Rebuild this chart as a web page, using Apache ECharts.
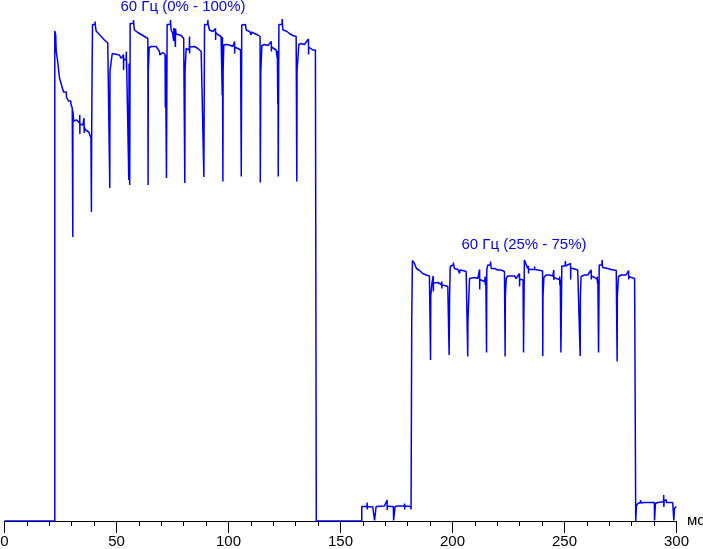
<!DOCTYPE html>
<html>
<head>
<meta charset="utf-8">
<script src="https://cdn.jsdelivr.net/npm/echarts@6/dist/echarts.min.js"></script>
<style>
html,body{margin:0;padding:0;background:#fff;}
#chart{width:703px;height:549px;}
</style>
</head>
<body>
<div id="chart"></div>
<script>
// x ticks (ms)
var xTicks = [0, 50, 100, 150, 200, 250, 300];
var xUnit = 'мс';
var labels = ['60 Гц (0% - 100%)', '60 Гц (25% - 75%)'];

// Response trace, [time ms, level] ; level in arbitrary units (0 = black)
var trace0to100 = [
 [0,0],[22.45,0],
 [22.45,98],[22.8,98],[22.85,97.2],[23.05,97.2],[23.1,93.9],[23.7,93.9],[23.75,91.9],[24.5,91.9],[24.55,88.6],[25.4,88.6],[25.45,87.2],[26.3,87.2],[26.35,85.8],[27.6,85.8],[27.65,84.8],[28.5,84.8],[28.55,84],[29.6,84],[29.65,83.4],[30.2,83.4],[30.25,82.6],[30.45,82.2],
 [30.5,56.8],[30.55,82],[30.9,80],
 [32.2,80.2],[33.5,79.6],[33.6,81.2],[33.65,77.4],[33.7,79.4],[35.0,79.2],[35.5,80.6],[35.55,77.6],[35.6,78.8],[36.2,78.2],[37.6,77.8],[38.3,77.5],[38.6,76.6],
 [38.8,61.8],[38.9,76],[39.1,90],[39.3,99.3],
 [40.4,99.3],[40.45,99.9],[40.5,99.3],[40.9,98],[41.7,97.6],[43.2,96.9],[44.6,96.2],[46.1,95.6],[46.9,95.2],
 [47.0,66.6],[47.1,90],[48.1,93.5],
 [48.8,93.7],[51.3,93.2],[52.1,92.5],[53.1,93.3],[53.15,90.2],[53.2,92.4],[54.3,92.2],[54.4,93.9],[54.45,90.6],[54.5,92],[55.2,91.9],
 [55.5,68.2],[55.6,91.5],[55.9,67.2],[56.1,99.5],
 [57.5,99.5],[57.6,100.2],[57.7,99.5],[58.0,98.2],[59.5,97.7],[61.0,97.3],[62.5,96.9],[64.0,96.5],
 [64.1,67.2],[64.2,90],[64.6,94.7],
 [65.5,94.9],[67.7,94.9],[68.5,94.5],[69.2,93.9],[69.3,93.2],[70.7,93.7],[71.7,93.3],[71.8,82.7],[71.9,93.2],
 [72.3,68.6],[72.6,99.3],
 [74.0,99.3],[74.1,100.2],[74.2,99.3],[74.4,98.2],[75.1,97.5],[75.5,96],[75.6,98.6],[75.9,97.3],[76.3,94.8],[76.35,98.5],[76.6,97.4],[77.4,97.5],[78.9,97.1],[80.0,96.5],
 [80.5,67.6],[80.6,90],[81.1,94.5],
 [82.5,94.2],[82.6,96.9],[82.65,93.5],[82.7,94.8],[83.3,95.2],[84.8,94.9],[86.3,94.5],[87.8,93.9],[88.5,93.5],
 [89.0,68.8],[89.3,99.3],
 [90.7,99.3],[90.8,100.2],[90.9,99.3],[91.5,98.2],[93.0,97.9],[94.2,98.5],[94.25,96.2],[94.3,97.7],[95.2,97.3],[96.7,96.9],
 [97.2,85.2],[97.3,96.8],[97.5,67.9],[97.6,90],[97.9,95.2],
 [99.0,95.3],[100.4,95.2],[101.9,94.9],[102.7,95.9],[102.75,93.5],[102.8,94.8],[104.2,94.5],[105.4,94.2],
 [105.7,68.9],[105.9,99.2],
 [107.6,99.3],[107.9,98.2],[109.4,97.9],[110.1,98.2],[110.15,97.2],[110.2,97.8],[111.6,97.5],[113.1,97.2],[114.1,96.9],
 [114.2,67.7],[114.4,89.6],[114.9,95.1],
 [116.1,95.3],[117.6,95.1],[119.1,95.9],[119.15,93.9],[119.2,94.8],[119.8,94.5],[121.3,94.2],[121.7,92.7],[121.8,94],[122.0,83.4],[122.1,93.5],
 [122.2,68.9],[122.5,99.3],
 [123.9,99.3],[124.0,100.4],[124.1,99.3],[124.3,98.2],[125.8,98],[127.2,97.5],[128.7,97.1],[130.2,96.9],
 [130.5,67.9],[130.6,90],[131.4,95.3],
 [132.4,95.5],[133.9,95.3],[135.7,96.4],[135.75,93.3],[135.8,94.8],[136.2,94.5],[137.6,94.2],[138.8,94.2],
 [139.2,94.2],[139.2,0],[159.5,0]
];

var trace25to75 = [
 [159.5,2.9],[161.8,2.9],[161.9,3.7],[161.95,2.3],[162.0,2.9],[164.4,2.8],[165.2,0.1],[165.6,0.1],[165.9,2.9],[166.7,3.0],[169.6,3.0],[170.8,4.2],[170.85,2.2],[170.9,3.0],[172.6,2.9],[173.6,2.9],[173.7,0.1],[173.9,0.1],[174.4,2.9],[175.6,3.0],[178.5,3.0],[178.6,3.5],[178.65,2.3],[178.7,3.0],[181.3,2.9],[181.5,2.3],
 [181.8,39.9],[182.1,52.1],
 [182.8,52.1],[183.0,51.5],[183.8,51.5],[183.9,50.5],[185.3,50.1],[186.7,49.5],[188.3,49.2],[189.7,49.0],[190.1,48.8],
 [190.2,32.2],[190.3,45],[190.8,47.5],
 [191.4,49],[191.45,45.9],[191.5,47.6],[192.0,47.7],[193.4,47.7],[195.0,47.3],[195.2,47.9],[195.25,46.5],[195.3,47.2],[196.4,47.1],[197.9,46.9],[198.3,46.5],
 [198.5,33.2],[198.7,45],[199.0,50.9],
 [199.4,51.2],[200.3,51.2],[200.4,51.7],[200.5,51.2],[200.9,50.5],[202.4,50.3],[203.1,50.2],[203.15,50.5],[203.2,49.5],[203.3,50.2],[204.6,50.1],[206.1,49.9],[206.6,49.7],
 [206.8,32.9],[206.9,40],[207.6,48.5],
 [208.3,48.7],[209.8,48.7],[211.3,48.5],[212.1,50.3],[212.15,46.3],[212.2,48.3],[212.8,48.1],[214.3,47.9],[214.6,48.9],[214.65,47.2],[214.9,47.8],
 [215.2,33.7],[215.3,50.3],
 [215.8,51.2],[216.9,51.2],[217.0,51.9],[217.1,51.2],[217.3,50.5],[218.8,50.5],[220.2,50.2],[221.7,50.2],[223.2,49.9],
 [223.5,32.9],[223.6,45],[224.0,48.5],
 [224.7,49.0],[227.7,49.0],[228.4,48.5],[229.9,49.5],[229.95,46.9],[230.0,48.4],[230.7,48.3],[231.5,48.2],[231.6,40.2],[231.65,48],
 [231.7,33.7],[232.1,52.2],
 [232.6,52.3],[232.9,52],[233.6,50.5],[233.9,51],[233.95,49.5],[234.0,50.4],[235.1,50.3],[236.6,50.3],[236.65,50.9],[236.7,50.3],[238.1,50.2],[239.3,50.1],[240.2,50.0],
 [240.3,33],[240.4,45],[240.8,48.7],
 [241.8,49.2],[243.3,49.2],[244.8,49.0],[245.2,50.2],[245.25,48.2],[245.3,48.8],[246.3,48.5],[247.8,48.3],[247.85,48.9],[247.9,47.2],[248.1,48.3],
 [248.4,33.7],[248.8,51.0],
 [250.3,51.0],[250.4,52],[250.5,51],[250.8,51],[252.7,51.5],[252.75,48.3],[252.8,50.6],[253.0,50.5],[254.5,50.4],[255.9,50.2],[256.7,49.9],
 [257.0,33],[257.1,45],[257.4,48.9],
 [258.9,49.2],[260.4,49.2],[261.9,50.2],[261.95,48.3],[262.0,49.0],[263.4,48.7],[264.6,48.3],[264.65,48.9],[264.7,47.5],[264.9,48.2],
 [265.2,33.7],[265.5,51.2],
 [266.7,51.2],[266.8,52.2],[266.9,51.2],[267.1,50.7],[269.3,50.5],[270.8,50.3],[273.1,50.1],
 [273.5,31.9],[273.6,45],[274.1,48.9],
 [275.3,49.2],[277.5,49.2],[278.6,50.1],[278.65,48.3],[278.7,48.9],[279.8,48.7],[281.3,48.5],[281.7,48.5],
 [281.8,0]
];

var traceTail = [
 [281.8,0],[282.1,0],[282.1,3.0],[282.7,3.5],[283.9,3.7],[284.0,4.2],[284.05,3.6],[285.7,3.7],[288.7,3.7],[290.1,3.7],[290.2,0.1],[290.3,0.1],[290.6,3.5],[291.7,3.7],[293.2,3.8],[294.2,3.8],[294.3,5.2],[294.35,2.8],[294.5,4.0],[295.4,4.3],[295.5,3.7],[296.9,3.7],[298.3,3.7],[298.7,3.7],[298.8,0.1],[298.9,0.1],[299.1,2.5],[299.9,2.9]
];

var data = trace0to100.concat(trace25to75, traceTail);

var chart = echarts.init(document.getElementById('chart'), null, {renderer: 'canvas'});
var font = 'Liberation Sans, Arial, sans-serif';
chart.setOption({
  animation: false,
  backgroundColor: '#ffffff',
  grid: {left: 4.5, right: 26.5, top: 0, bottom: 28, containLabel: false, outerBoundsMode: 'none'},
  xAxis: {
    type: 'value', min: xTicks[0], max: xTicks[xTicks.length - 1], interval: xTicks[1] - xTicks[0],
    name: xUnit, nameLocation: 'end', nameGap: 10.5,
    nameTextStyle: {color: '#000', fontSize: 15, fontFamily: font, verticalAlign: 'middle'},
    axisLine: {show: true, onZero: false, lineStyle: {color: '#000', width: 1}},
    axisTick: {show: true, length: 12, lineStyle: {color: '#000', width: 1}},
    minorTick: {show: true, splitNumber: 5, length: 5, lineStyle: {color: '#000', width: 1}},
    axisLabel: {color: '#000', fontSize: 15, fontFamily: font, margin: 13, showMinLabel: true, showMaxLabel: true},
    splitLine: {show: false}, minorSplitLine: {show: false}
  },
  yAxis: {type: 'value', min: 0, max: 104.2, show: false, splitLine: {show: false}},
  series: [{
    type: 'line', data: data, showSymbol: false, symbol: 'none',
    lineStyle: {color: '#0000ff', width: 1.5}, z: 5
  }],
  graphic: [
    {type: 'text', x: 183, y: 7, style: {text: labels[0], fill: '#0000ff', font: '15px ' + font, align: 'center', verticalAlign: 'middle'}},
    {type: 'text', x: 524, y: 245, style: {text: labels[1], fill: '#0000ff', font: '15px ' + font, align: 'center', verticalAlign: 'middle'}}
  ]
});
</script>
</body>
</html>
